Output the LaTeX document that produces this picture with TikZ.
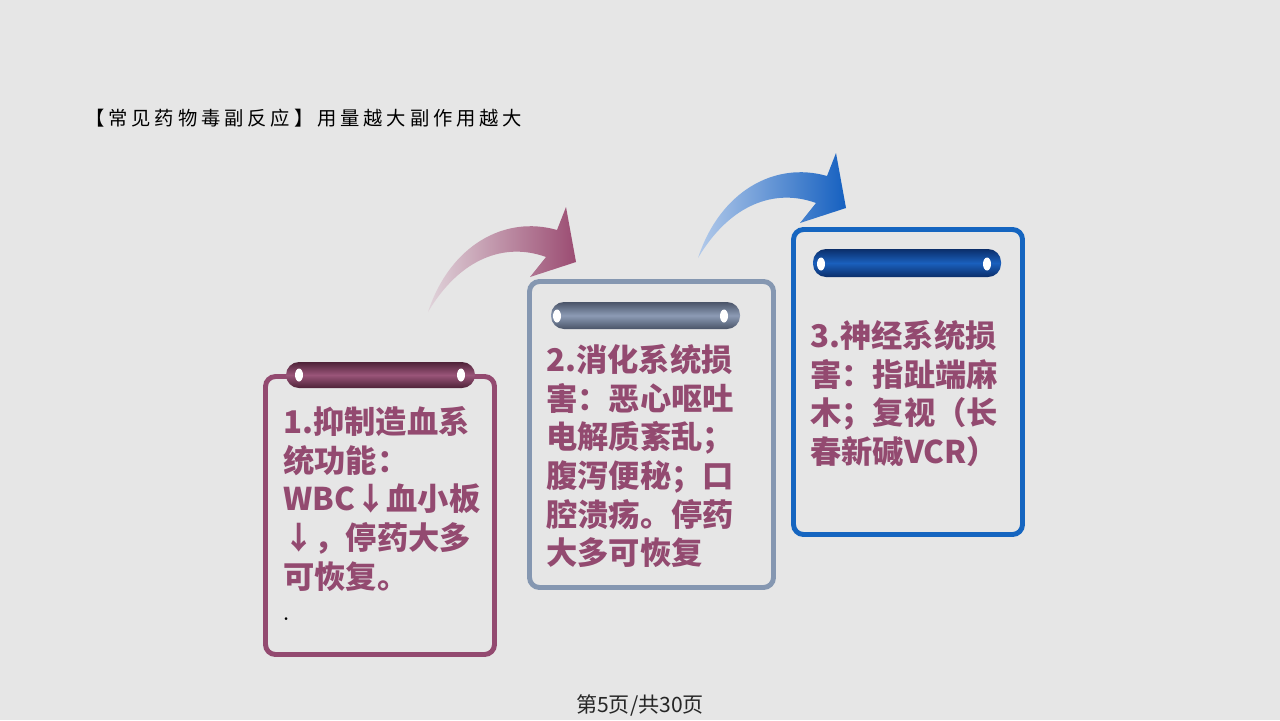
\documentclass[tikz,border=0pt]{standalone}
\usepackage{fontspec}
\newfontfamily\cjk{Noto Sans CJK SC}
\newfontfamily\cjktitle[LetterSpace=20]{Noto Sans CJK SC}
\definecolor{pagebg}{HTML}{E6E6E6}
\definecolor{plum}{HTML}{934A70}
\definecolor{plumdark}{HTML}{4E2238}
\definecolor{plumbar}{HTML}{9A5579}
\definecolor{slate}{HTML}{8597B1}
\definecolor{slatedark}{HTML}{4A5468}
\definecolor{slatebar}{HTML}{8C9BB5}
\definecolor{royal}{HTML}{1565C0}
\definecolor{royaldark}{HTML}{0B2E6A}
\definecolor{royalbar}{HTML}{1A60BD}
\definecolor{arrowpink}{HTML}{E0D3DA}
\definecolor{arrowplum}{HTML}{9B4C72}
\definecolor{arrowsky}{HTML}{B3CAEA}
\definecolor{arrowblue}{HTML}{1560C0}
\usetikzlibrary{positioning}
\tikzset{
card/.style={
  line width=2.8pt,
  rounded corners=0.2cm,
  fill=pagebg
  },
cardtext/.style={
  anchor=north west,
  inner sep=0pt,
  align=left,
  text=plum,
  font=\cjk\bfseries\fontsize{17.8}{22}\selectfont
  },
pillbar/.style={
  rounded corners=0.26cm
  },
hole/.style={fill=white}
}

\begin{document}
\begin{tikzpicture}[x=0.02cm, y=-0.02cm]
\useasboundingbox (0,0) rectangle (1280,720);
\fill[pagebg] (0,0) rectangle (1280,720);

\node[anchor=west, inner sep=0pt, font=\cjktitle\fontsize{11}{13}\selectfont]
  (title) at (85,118) {【常见药物毒副反应】用量越大副作用越大};

% bent arrows
\shade[left color=arrowpink, right color=arrowplum]
  (428,312) .. controls (450,245) and (505,215) .. (557,230)
  -- (566,207) -- (576,262) -- (530,277) -- (546,257)
  .. controls (505,242) and (460,258) .. cycle;
\begin{scope}[shift={(270,-54)}]
\shade[left color=arrowsky, right color=arrowblue]
  (428,312) .. controls (450,245) and (505,215) .. (557,230)
  -- (566,207) -- (576,262) -- (530,277) -- (546,257)
  .. controls (505,242) and (460,258) .. cycle;
\end{scope}

% cards
\draw[card, draw=plum] (265.5,376.5) rectangle (494.5,654.5);
\draw[card, draw=slate] (529.5,281.5) rectangle (773.5,587.5);
\draw[card, draw=royal] (793.5,229.5) rectangle (1022.5,534.5);

% bars
\shade[pillbar, top color=plumdark, bottom color=plumdark, middle color=plumbar]
  (286,362) rectangle (475,388);
\fill[hole] (299,375) ellipse (4 and 6.5);
\fill[hole] (461,375) ellipse (4 and 6.5);

\shade[pillbar, top color=slatedark, bottom color=slatedark, middle color=slatebar]
  (551,302) rectangle (740,329);
\fill[hole] (557,316) ellipse (4 and 6.5);
\fill[hole] (724,316) ellipse (4 and 6.5);

\shade[pillbar, top color=royaldark, bottom color=royaldark, middle color=royalbar]
  (813,249) rectangle (1001,277);
\fill[hole] (821,264) ellipse (4 and 6.5);
\fill[hole] (987,264) ellipse (4 and 6.5);

% texts
\node[cardtext] (text1) at (283,406)
  {1.抑制造血系\\统功能：\\WBC↓血小板\\↓，停药大多\\可恢复。};
\node[anchor=west, inner sep=0pt, font=\bfseries] (dot1) at (283,619) {.};
\node[cardtext] (text2) at (546,344)
  {2.消化系统损\\害：恶心呕吐\\电解质紊乱；\\腹泻便秘；口\\腔溃疡。停药\\大多可恢复};
\node[cardtext] (text3) at (810,320)
  {3.神经系统损\\害：指趾端麻\\木；复视（长\\春新碱VCR）};

\node[font=\cjk\fontsize{12}{14}\selectfont, text=black!85] (footer) at (640,705)
  {第5页/共30页};
\end{tikzpicture}
\end{document}
